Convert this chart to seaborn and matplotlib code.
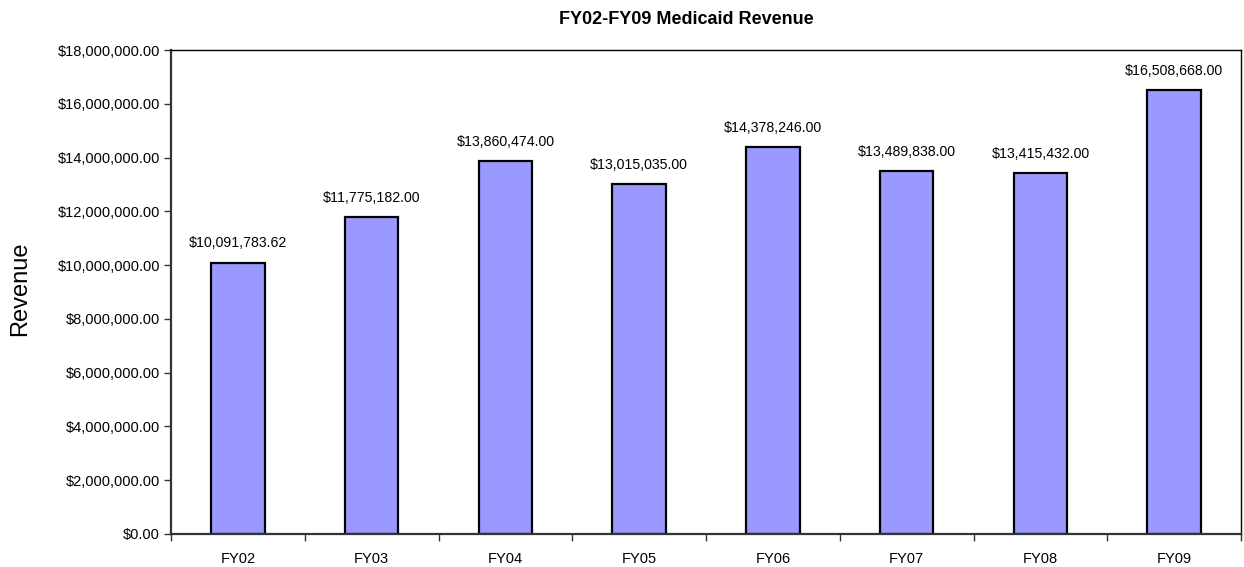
import matplotlib
matplotlib.use("Agg")
import matplotlib.pyplot as plt
import seaborn as sns
import pandas as pd
from matplotlib.ticker import FuncFormatter, FixedLocator

categories = ["FY02", "FY03", "FY04", "FY05", "FY06", "FY07", "FY08", "FY09"]
revenue = [10091783.62, 11775182.00, 13860474.00, 13015035.00,
           14378246.00, 13489838.00, 13415432.00, 16508668.00]
ytick_values = [0, 2e6, 4e6, 6e6, 8e6, 10e6, 12e6, 14e6, 16e6, 18e6]

sns.set_style("white")
plt.rcParams['font.family'] = ['Liberation Sans', 'DejaVu Sans']
plt.rcParams['text.color'] = 'black'
plt.rcParams['xtick.color'] = 'black'
plt.rcParams['ytick.color'] = 'black'
plt.rcParams['axes.labelcolor'] = 'black'

df = pd.DataFrame({"Year": categories, "Revenue": revenue})

W, H = 1244, 567
fig = plt.figure(figsize=(W / 100, H / 100), dpi=100)
ax = fig.add_axes([171 / W, 1 - 534 / H, (1241 - 171) / W, (534 - 50) / H])

sns.barplot(data=df, x="Year", y="Revenue", ax=ax, color="#9999FF",
            edgecolor="black", linewidth=1.6, width=0.4, saturation=1)

fmt = lambda v: "${:,.2f}".format(v)
for i, v in enumerate(revenue):
    ax.annotate(fmt(v), (i, v), xytext=(0, 9), textcoords="offset points",
                ha="center", va="bottom", fontsize=10.2, color="black")

ax.set_xlim(-0.5, len(categories) - 0.5)
ax.set_ylim(0, 18e6)
ax.set_yticks(ytick_values)
ax.yaxis.set_major_formatter(FuncFormatter(lambda v, p: fmt(v)))
ax.tick_params(axis="y", which="major", length=5, width=1, direction="out",
               left=True, labelsize=10.5, pad=3, color="#333333",
               labelcolor="black")
ax.tick_params(axis="x", which="major", length=0, labelsize=10.5, pad=13,
               labelcolor="black")
ax.xaxis.set_minor_locator(FixedLocator([i - 0.5 for i in range(len(categories) + 1)]))
ax.tick_params(axis="x", which="minor", length=5, width=1, direction="out",
               bottom=True, color="#333333")

ax.set_xlabel("")
ax.set_ylabel("")
fig.text(20.5 / W, 1 - 289 / H, "Revenue", rotation=90, fontsize=17,
         ha="center", va="center", color="black")
fig.text(686 / W, 1 - 19 / H, "FY02-FY09 Medicaid Revenue", fontsize=13,
         fontweight="bold", ha="center", va="center", color="black")

for side in ["left", "bottom"]:
    ax.spines[side].set_color("#333333")
    ax.spines[side].set_linewidth(1.6)
for side in ["top", "right"]:
    ax.spines[side].set_color("black")
    ax.spines[side].set_linewidth(1.0)
    ax.spines[side].set_visible(True)

fig.savefig("out.png", dpi=100)
